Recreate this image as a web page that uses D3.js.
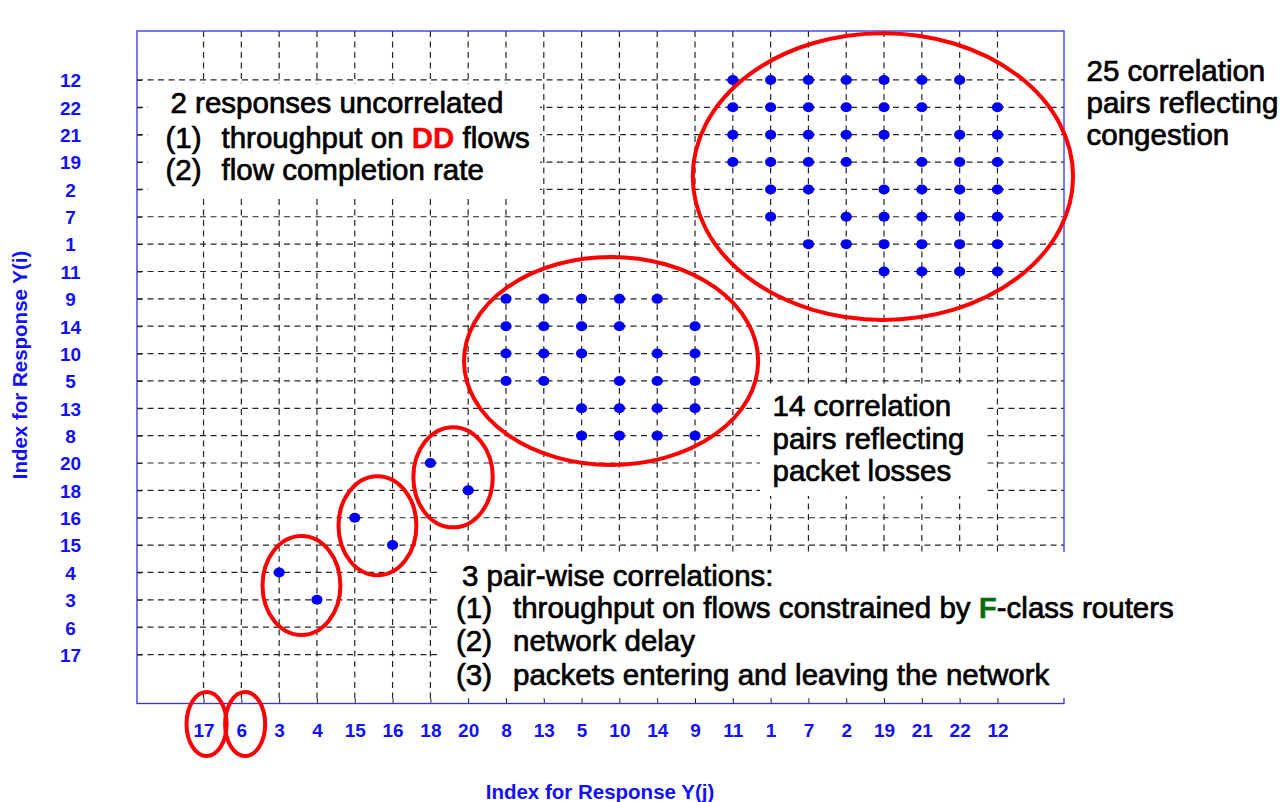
<!DOCTYPE html>
<html><head><meta charset="utf-8">
<script src="https://cdn.jsdelivr.net/npm/d3@7"></script>
<style>
body{margin:0;background:#fff;}
svg{display:block;font-family:"Liberation Sans",Arial,sans-serif;}
</style>
</head><body>
<svg id="c" width="1285" height="802"></svg>
<script>
// ---- data ----
const responses = ["17","6","3","4","15","16","18","20","8","13","5","10","14","9","11","1","7","2","19","21","22","12"];
// rows of correlated pairs: response Y(i) and the responses Y(j) it correlates with
const rowResponses = ["12","22","21","19","2","7","1","11","9","14","10","5","13","8","20","18","16","15","4","3"];
const rowPartners = [
  ["11","1","7","2","19","21","22"],
  ["11","1","7","2","19","21","12"],
  ["11","1","7","2","19","22","12"],
  ["11","1","7","2","21","22","12"],
  ["1","7","19","21","22","12"],
  ["1","2","19","21","22","12"],
  ["7","2","19","21","22","12"],
  ["19","21","22","12"],
  ["8","13","5","10","14"],
  ["8","13","5","10","9"],
  ["8","13","5","14","9"],
  ["8","13","10","14","9"],
  ["5","10","14","9"],
  ["5","10","14","9"],
  ["18"],
  ["20"],
  ["15"],
  ["16"],
  ["3"],
  ["4"]
];
const xTitle = "Index for Response Y(j)";
const yTitle = "Index for Response Y(i)";
const noteCongestion = ["25 correlation", "pairs reflecting", "congestion"];
const noteLosses = ["14 correlation", "pairs reflecting", "packet losses"];
const noteUncorrHead = "2 responses uncorrelated";
const notePairHead = "3 pair-wise correlations:";
const notePairItems = [
  [["throughput on flows constrained by ", null], ["F", "#0a6b0a"], ["-class routers", null]],
  [["network delay", null]],
  [["packets entering and leaving the network", null]]
];
const noteUncorrItems = [
  [["throughput on ", null], ["DD", "#ff0000"], [" flows", null]],
  [["flow completion rate", null]]
];

// ---- layout ----
const W = 1285, H = 802;
const L = 137, R = 1064, T = 31, B = 703.5;
const x = d3.scalePoint().domain(responses).range([L, R]).padding(1.76);
const y = d3.scalePoint().domain(responses).range([B, T]).padding(1.79);
const xi = i => x(responses[0]) + i * x.step();
const yi = i => y(responses[0]) - i * y.step();

const svg = d3.select("#c");
svg.append("rect").attr("width", W).attr("height", H).attr("fill", "#fff");

// grid
const grid = svg.append("g").attr("stroke", "#262626").attr("stroke-width", 1.2).attr("stroke-dasharray", "6,4.5");
grid.selectAll("line.v").data(responses).join("line").attr("class", "v")
  .attr("x1", d => x(d)).attr("x2", d => x(d)).attr("y1", T).attr("y2", B);
grid.selectAll("line.h").data(responses).join("line").attr("class", "h")
  .attr("y1", d => y(d)).attr("y2", d => y(d)).attr("x1", L).attr("x2", R);

// axes
const blue = "#1010ff";
const gx = svg.append("g").attr("transform", `translate(0,${B})`)
  .call(d3.axisBottom(x).tickSize(-5).tickPadding(20.5));
gx.select(".domain").remove();
gx.selectAll(".tick line").attr("stroke", "#222");
gx.attr("font-family", null).attr("font-size", null);
gx.selectAll(".tick text").attr("font-size", 19).attr("font-weight", "bold").attr("fill", blue);

const gy = svg.append("g").attr("transform", `translate(${L},0)`)
  .call(d3.axisLeft(y).tickSize(-5));
gy.select(".domain").remove();
gy.selectAll(".tick line").attr("stroke", "#222");
gy.attr("font-family", null).attr("font-size", null);
gy.selectAll(".tick text").attr("font-size", 19).attr("font-weight", "bold").attr("fill", blue)
  .attr("text-anchor", "middle").attr("x", 70.5 - L).attr("dy", "0.36em");

// frame
svg.append("rect").attr("x", L).attr("y", T).attr("width", R - L).attr("height", B - T)
  .attr("fill", "none").attr("stroke", "#3030ff").attr("stroke-width", 1.3);

// dots
const pts = [];
rowResponses.forEach((r, k) => rowPartners[k].forEach(c => pts.push({i: r, j: c})));
svg.append("g").selectAll("ellipse").data(pts).join("ellipse")
  .attr("cx", d => x(d.j)).attr("cy", d => y(d.i)).attr("rx", 5.6).attr("ry", 5)
  .attr("fill", "#0000f0");

// white label boxes covering the grid
const boxes = [[148, 84, 540, 195], [760, 384, 983, 496], [440, 552, 1190, 698]];
svg.append("g").selectAll("rect").data(boxes).join("rect")
  .attr("x", d => d[0]).attr("y", d => d[1]).attr("width", d => d[2] - d[0]).attr("height", d => d[3] - d[1])
  .attr("fill", "#fff");

// annotation text
const FS = 29.5;
const note = svg.append("g").attr("font-size", FS).attr("fill", "#000")
  .attr("stroke", "#000").attr("stroke-width", 0.7);
function line(xp, yp, str) {
  return note.append("text").attr("x", xp).attr("y", yp).text(str);
}
function rich(xNum, xTxt, yp, num, segs) {
  const t = note.append("text").attr("x", xNum).attr("y", yp);
  t.append("tspan").text(num);
  segs.forEach((s, k) => {
    const ts = t.append("tspan").text(s[0]);
    if (k === 0) ts.attr("x", xTxt);
    if (s[1]) ts.attr("fill", s[1]).attr("stroke", s[1]).attr("font-weight", "bold").attr("stroke-width", 0.3);
  });
}
line(170.5, 113, noteUncorrHead);
rich(165.5, 221.5, 148, "(1)", noteUncorrItems[0]);
rich(165.5, 221.5, 180, "(2)", noteUncorrItems[1]);

noteCongestion.forEach((s, k) => line(1086.5, [81, 113, 145][k], s));
noteLosses.forEach((s, k) => line(772.5, [416, 449, 481][k], s));

line(462, 586, notePairHead);
notePairItems.forEach((segs, k) => rich(456, 513, [618, 651, 685][k], `(${k + 1})`, segs));

// axis titles
svg.append("text").attr("x", 600).attr("y", 799).attr("text-anchor", "middle")
  .attr("font-size", 20.5).attr("font-weight", "bold").attr("fill", blue).text(xTitle);
svg.append("text").attr("transform", "translate(27,365) rotate(-90)").attr("text-anchor", "middle")
  .attr("font-size", 20.5).attr("font-weight", "bold").attr("fill", blue).text(yTitle);

// red highlight ellipses (in category-index units)
const rings = [
  [17.97, 17.47, 5.03, 5.24],
  [10.78, 10.73, 3.89, 3.80],
  [2.59, 2.52, 1.03, 1.81],
  [4.60, 4.71, 1.03, 1.81],
  [6.60, 6.48, 1.05, 1.83],
  [0.08, -2.54, 0.53, 1.17],
  [1.10, -2.54, 0.53, 1.17]
];
svg.append("g").selectAll("ellipse").data(rings).join("ellipse")
  .attr("cx", d => xi(d[0])).attr("cy", d => yi(d[1]))
  .attr("rx", d => d[2] * x.step()).attr("ry", d => d[3] * y.step())
  .attr("fill", "none").attr("stroke", "#ff0000").attr("stroke-width", 4);
</script>
</body></html>
